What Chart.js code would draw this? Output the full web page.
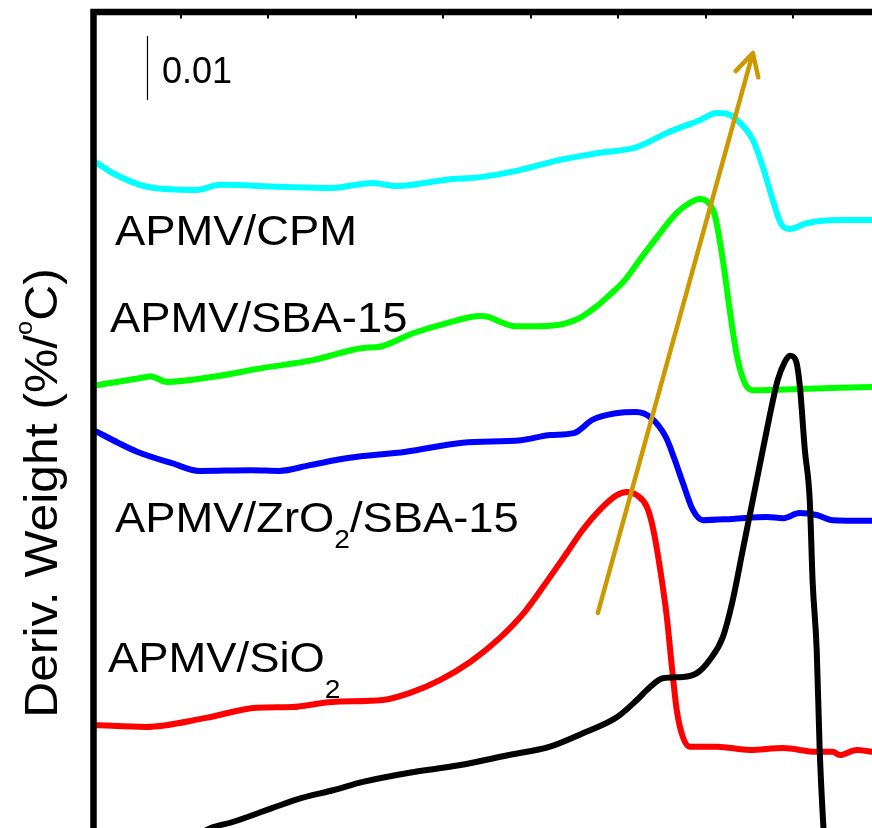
<!DOCTYPE html>
<html>
<head>
<meta charset="utf-8">
<script src="https://cdn.jsdelivr.net/npm/chart.js@4/dist/chart.umd.min.js"></script>
<style>
html,body{margin:0;padding:0;background:#fff;overflow:hidden;}
#c{display:block;}
</style>
</head>
<body>
<canvas id="c" width="872" height="828"></canvas>
<script>
// Temperature (°C) and derivative weight (units of 0.001 %/°C, curves vertically offset)
const blackT = [149.4,167.1,179.1,202.0,219.1,236.9,254.0,279.7,308.9,337.4,360.9,379.7,399.1,410.6,418.0,425.4,436.9,444.9,452.3,459.7,465.4,471.1,476.9,482.6,486.6,491.1,495.1,498.0,501.4,503.7,506.6,509.4,511.1,513.4,515.1,516.9,518.0];
const blackV = [-2.7,0.0,0.9,3.1,4.7,5.9,7.2,8.6,9.8,11.4,12.7,14.8,17.3,20.0,22.0,23.4,23.6,24.2,26.3,29.8,35.6,43.4,51.3,59.1,64.5,70.0,72.8,73.8,73.1,69.2,59.1,51.3,38.3,27.8,12.2,1.7,-3.4];

const sio2T = [100.9,130.0,164.3,193.4,213.4,236.3,265.4,280.9,298.0,315.1,332.3,346.6,360.9,370.6,379.7,389.4,399.1,404.9,410.6,416.3,419.7,423.7,427.7,430.6,433.4,436.9,440.9,456.3,475.1,494.0,513.4,522.6,526.6,536.3,544.9];
const sio2V = [16.1,15.8,17.2,18.8,18.9,19.7,20.0,21.1,23.1,25.9,29.7,33.8,39.2,43.0,46.6,49.7,52.0,52.5,52.0,50.2,47.0,40.8,33.0,25.2,18.4,14.2,12.7,12.7,12.2,12.5,11.9,11.9,11.4,12.2,11.9];

const zrT = [102.0,114.0,124.9,144.9,160.3,190.6,206.0,223.7,245.4,278.6,311.1,344.3,361.4,374.6,385.4,398.6,410.0,418.6,427.1,432.3,436.9,442.6,448.3,465.4,484.9,494.0,503.7,513.4,522.6,544.9];
const zrV = [61.9,60.2,58.8,57.0,55.8,55.9,55.8,56.7,57.8,58.8,60.2,60.6,61.4,61.7,63.8,64.8,65.0,64.1,61.1,57.5,53.9,49.7,48.1,48.3,48.6,48.4,49.2,48.9,48.1,48.0];

const sbaT = [102.0,130.6,132.3,142.0,168.4,197.0,225.4,254.0,263.7,282.6,302.0,320.9,326.6,332.3,340.9,355.1,369.4,378.0,386.6,395.1,403.7,412.3,422.0,433.4,440.9,446.6,451.1,455.1,459.7,463.7,467.7,472.3,478.0,503.7,526.6,544.9];
const sbaV = [69.2,70.5,70.6,69.7,70.5,71.9,73.1,75.0,75.2,77.3,78.9,80.0,79.8,79.1,78.4,78.4,78.8,79.7,81.3,83.3,85.6,88.8,92.3,96.1,97.7,98.3,97.8,95.8,88.8,80.9,73.9,69.5,68.4,68.6,68.8,68.9];

const cpmT = [102.0,111.1,130.6,159.1,172.3,206.6,235.1,259.7,273.4,302.0,320.9,343.7,366.6,389.4,410.6,427.7,446.6,456.3,462.0,469.4,476.9,482.6,488.3,493.4,498.0,507.7,526.6,544.9];
const cpmV = [103.9,102.3,100.2,99.7,100.5,100.2,100.0,100.8,100.3,101.3,101.7,102.8,104.4,105.5,106.4,108.6,110.6,111.7,111.6,110.2,107.5,103.3,98.1,94.2,93.6,94.5,95.0,95.0];

const xTicks = [150,200,250,300,350,400,450,500];
const seriesNames = ['APMV','APMV/SiO2','APMV/ZrO2/SBA-15','APMV/SBA-15','APMV/CPM'];
const yTitleParts = ['Deriv. Weight (%/','o','C)'];
const scaleBarText = '0.01';

const FONT = '"Liberation Sans", Arial, Helvetica, sans-serif';

function pts(xs, ys){ return xs.map((x,i)=>({x:x, y:ys[i]})); }

const labels = [
  {x:112.3, y:91.1, parts:[{t:'APMV/CPM'}]},
  {x:109.4, y:77.5, parts:[{t:'APMV/SBA-15'}]},
  {x:112.3, y:46.25, parts:[{t:'APMV/ZrO'},{t:'2', sub:16},{t:'/SBA-15'}]},
  {x:108.3, y:24.4, parts:[{t:'APMV/SiO'},{t:'2', sub:26}]}
];

function drawParts(ctx, parts, mainSize, subSize){
  let x = 0;
  for (const p of parts){
    const size = (p.sub !== undefined || p.sup !== undefined) ? subSize : mainSize;
    ctx.font = size + 'px ' + FONT;
    let dy = 0;
    if (p.sub !== undefined) dy = p.sub;
    if (p.sup !== undefined) dy = -p.sup;
    ctx.fillText(p.t, x, dy);
    x += ctx.measureText(p.t).width;
  }
  return x;
}
function measureParts(ctx, parts, mainSize, subSize){
  let w = 0;
  for (const p of parts){
    const size = (p.sub !== undefined || p.sup !== undefined) ? subSize : mainSize;
    ctx.font = size + 'px ' + FONT;
    w += ctx.measureText(p.t).width;
  }
  return w;
}

const decor = {
  id:'decor',
  afterDatasetsDraw(chart){
    const ctx = chart.ctx, a = chart.chartArea;
    const xs = chart.scales.x, ys = chart.scales.y;
    ctx.save();
    ctx.fillStyle = '#000';
    ctx.textBaseline = 'alphabetic';
    ctx.textAlign = 'left';

    // frame (left and top axis lines)
    ctx.strokeStyle = '#000';
    ctx.lineWidth = 6.5;
    ctx.lineCap = 'square';
    ctx.beginPath();
    ctx.moveTo(a.left, chart.height + 10);
    ctx.lineTo(a.left, a.top);
    ctx.lineTo(chart.width + 10, a.top);
    ctx.stroke();
    // inner tick marks on top axis
    ctx.lineWidth = 2;
    ctx.lineCap = 'butt';
    for (const t of xTicks){
      const px = Math.round(xs.getPixelForValue(t));
      ctx.beginPath();
      ctx.moveTo(px, a.top);
      ctx.lineTo(px, a.top + 6.5);
      ctx.stroke();
    }

    // scale bar
    const sbx = Math.round(xs.getPixelForValue(130.6)) + 0.5;
    ctx.lineWidth = 1.2;
    ctx.beginPath();
    ctx.moveTo(sbx, ys.getPixelForValue(123.75));
    ctx.lineTo(sbx, ys.getPixelForValue(113.75));
    ctx.stroke();
    ctx.font = '36px ' + FONT;
    ctx.fillText(scaleBarText, xs.getPixelForValue(139.1), ys.getPixelForValue(116.4));

    // curve labels
    for (const L of labels){
      ctx.save();
      ctx.translate(xs.getPixelForValue(L.x), ys.getPixelForValue(L.y));
      ctx.scale(1.08, 1);
      drawParts(ctx, L.parts, 42, 26);
      ctx.restore();
    }

    // y-axis title (rotated) with superscript o
    const tparts = [{t:yTitleParts[0]},{t:yTitleParts[1], sup:25},{t:yTitleParts[2]}];
    ctx.save();
    ctx.translate(56.5, 493);
    ctx.rotate(-Math.PI/2);
    ctx.scale(1.06, 1);
    const w = measureParts(ctx, tparts, 47, 24);
    ctx.translate(-w/2, 0);
    drawParts(ctx, tparts, 47, 24);
    ctx.restore();

    // arrow
    const x1 = xs.getPixelForValue(388.3), y1 = ys.getPixelForValue(33.6);
    const x2 = xs.getPixelForValue(476.9), y2 = ys.getPixelForValue(121.1);
    ctx.strokeStyle = '#CC9900';
    ctx.lineWidth = 4.5;
    ctx.lineCap = 'round';
    ctx.lineJoin = 'round';
    ctx.beginPath();
    ctx.moveTo(x1, y1);
    ctx.lineTo(x2, y2);
    const ang = Math.atan2(y1 - y2, x1 - x2);
    const hl = 25, ha = 28 * Math.PI / 180;
    ctx.moveTo(x2 + hl*Math.cos(ang + ha), y2 + hl*Math.sin(ang + ha));
    ctx.lineTo(x2, y2);
    ctx.lineTo(x2 + hl*Math.cos(ang - ha), y2 + hl*Math.sin(ang - ha));
    ctx.stroke();
    ctx.restore();
  }
};

const mk = (name, xs, ys, color) => ({
  label: name,
  data: pts(xs, ys),
  borderColor: color,
  backgroundColor: color,
  borderWidth: 6,
  pointRadius: 0,
  fill: false,
  cubicInterpolationMode: 'monotone',
  borderJoinStyle: 'round',
  borderCapStyle: 'round'
});

new Chart(document.getElementById('c'), {
  type: 'line',
  data: {
    datasets: [
      mk(seriesNames[0], blackT, blackV, '#000000'),
      mk(seriesNames[1], sio2T, sio2V, '#FF0000'),
      mk(seriesNames[2], zrT, zrV, '#0000FF'),
      mk(seriesNames[3], sbaT, sbaV, '#00FF00'),
      mk(seriesNames[4], cpmT, cpmV, '#00FFFF')
    ]
  },
  options: {
    responsive: false,
    devicePixelRatio: 1,
    animation: false,
    layout: { padding: { left: 93.5, top: 12, right: 0, bottom: 0 } },
    plugins: { legend: { display: false }, tooltip: { enabled: false }, title: { display: false } },
    scales: {
      x: { type: 'linear', min: 100, max: 545, display: false },
      y: { type: 'linear', min: 0, max: 127.5, display: false }
    }
  },
  plugins: [decor]
});
</script>
</body>
</html>
